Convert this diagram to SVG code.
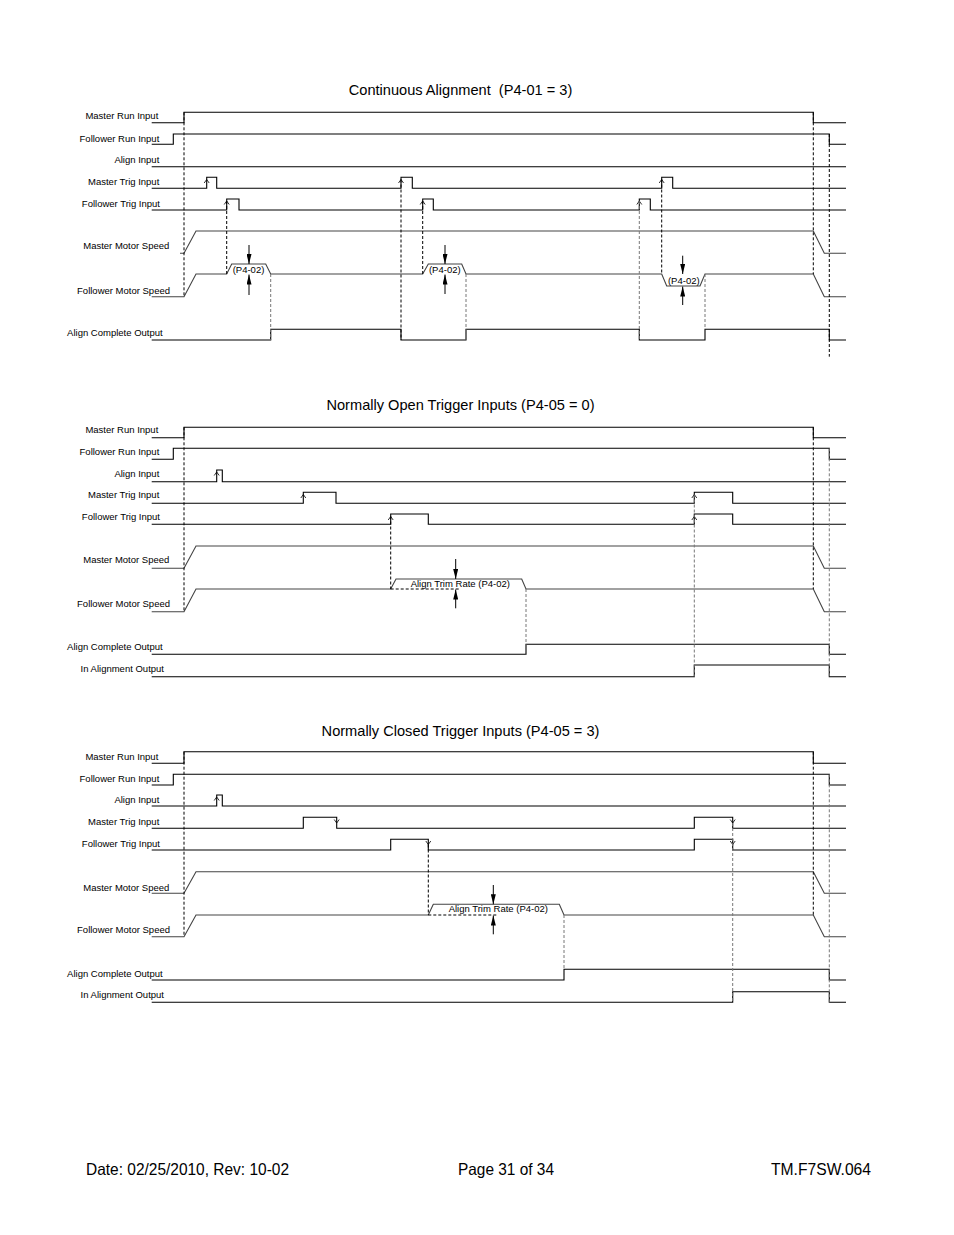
<svg xmlns="http://www.w3.org/2000/svg" xmlns:xlink="http://www.w3.org/1999/xlink" width="954" height="1235" viewBox="0 0 954 1235">
<style>
.sig{fill:none;stroke:#000;stroke-width:1.1}
.spd{stroke:#444}
.dsh{fill:none;stroke:#000;stroke-width:1;stroke-dasharray:3 2}
.dg{stroke:#777}
.car{fill:none;stroke:#000;stroke-width:0.8}
.arr{fill:none;stroke:#000;stroke-width:1;marker-end:url(#fa)}
.lbl{font-family:"Liberation Sans",Arial,sans-serif;font-size:9.5px;fill:#000;text-anchor:end}
.note{font-family:"Liberation Sans",Arial,sans-serif;font-size:9.5px;fill:#000;text-anchor:middle}
.ttl{font-family:"Liberation Sans",Arial,sans-serif;font-size:14.6px;fill:#000;text-anchor:middle;white-space:pre}
.ftr{font-family:"Liberation Sans",Arial,sans-serif;font-size:16.5px;fill:#000}
</style>
<defs>
<marker id="fa" viewBox="0 0 10 5" refX="10" refY="2.5" markerWidth="10" markerHeight="5" markerUnits="userSpaceOnUse" orient="auto">
<path d="M0,0 L10,2.5 L0,5 z" fill="#000"/>
</marker>
<path id="cu" class="car" d="M-2.5,3.5 L0,0 L2.5,3.5"/>
<path id="cd" class="car" d="M-2.5,-3.5 L0,0 L2.5,-3.5"/>
</defs>
<rect width="954" height="1235" fill="#fff"/>

<!-- Diagram 1 -->
<g id="diagram1">
<text class="ttl" x="460.5" y="95">Continuous Alignment  (P4-01 = 3)</text>
<g id="d1-master-run"><text class="lbl" x="158.3" y="119.3">Master Run Input</text><path class="sig" d="M151.7,122.7 H184 V112.3 H813.3 V122.7 H846"/></g>
<g id="d1-follower-run"><text class="lbl" x="159.3" y="141.7">Follower Run Input</text><path class="sig" d="M151.7,144.3 H173.3 V134 H829.3 V144.3 H846"/></g>
<g id="d1-align-input"><text class="lbl" x="159.3" y="163.3">Align Input</text><path class="sig" d="M151.7,166.7 H846"/></g>
<g id="d1-master-trig"><text class="lbl" x="159.3" y="185">Master Trig Input</text><path class="sig" d="M151.7,188.3 H206.7 V177.3 H216.7 V188.3 H401 V177.3 H412.3 V188.3 H661.7 V177.3 H672.7 V188.3 H846"/>
<use xlink:href="#cu" x="206.7" y="179.5"/><use xlink:href="#cu" x="401" y="179.5"/><use xlink:href="#cu" x="661.7" y="179.5"/></g>
<g id="d1-follower-trig"><text class="lbl" x="160" y="206.7">Follower Trig Input</text><path class="sig" d="M151.7,210 H226.7 V199 H239 V210 H422.7 V199 H433.3 V210 H639.3 V199 H650.3 V210 H846"/>
<use xlink:href="#cu" x="226.7" y="201"/><use xlink:href="#cu" x="422.7" y="201"/><use xlink:href="#cu" x="639.3" y="201"/></g>
<g id="d1-master-speed"><text class="lbl" x="169.3" y="249.3">Master Motor Speed</text><path class="sig spd" d="M180,253.3 H184 L196,231 H813.3 L824.3,253.3 H846"/></g>
<g id="d1-follower-speed"><text class="lbl" x="170" y="293.7">Follower Motor Speed</text><path class="sig spd" d="M151.7,296.7 H184 L196,274 H226.7 L231.7,264 H265.7 L270.7,274 H422.7 L428.3,264 H461.7 L466,274 H661.7 L666.7,286 H700 L705,274 H813.3 L824.3,296.7 H846"/>
<text class="note" x="248.5" y="272.5">(P4-02)</text><text class="note" x="444.8" y="272.5">(P4-02)</text><text class="note" x="683.8" y="283.5">(P4-02)</text></g>
<g id="d1-align-complete"><text class="lbl" x="162.7" y="336">Align Complete Output</text><path class="sig" d="M151.7,340 H270.7 V329.3 H401 V340 H466 V329.3 H639.3 V340 H705 V329.3 H829.3 V340 H846"/></g>
<g id="d1-connectors">
<path class="dsh" d="M184,112.3 V296.7"/>
<path class="dsh" d="M226.7,201 V274"/>
<path class="dsh dg" d="M270.7,274 V340"/>
<path class="dsh" d="M401,179.5 V340"/>
<path class="dsh" d="M422.7,201 V274"/>
<path class="dsh dg" d="M466,274 V340"/>
<path class="dsh dg" d="M639.3,201 V340"/>
<path class="dsh" d="M661.7,179.5 V274"/>
<path class="dsh dg" d="M705,274 V329.3"/>
<path class="dsh" d="M813.3,112.3 V274"/>
<path class="dsh" d="M829.3,134 V356.7"/>
<path class="arr" d="M249,245 V264"/><path class="arr" d="M249,295 V274.5"/>
<path class="arr" d="M445,245 V264"/><path class="arr" d="M445,294 V274.5"/>
<path class="arr" d="M682.7,255.7 V274"/><path class="arr" d="M682.7,305 V286.5"/>
</g>
</g>

<!-- Diagram 2 -->
<g id="diagram2">
<text class="ttl" x="460.5" y="409.5">Normally Open Trigger Inputs (P4-05 = 0)</text>
<g id="d2-master-run"><text class="lbl" x="158.3" y="433.3">Master Run Input</text><path class="sig" d="M151.7,437.7 H184 V427.3 H813.3 V437.7 H846"/></g>
<g id="d2-follower-run"><text class="lbl" x="159.3" y="455">Follower Run Input</text><path class="sig" d="M151.7,459.3 H173.3 V448.3 H829.3 V459.3 H846"/></g>
<g id="d2-align-input"><text class="lbl" x="159.3" y="476.7">Align Input</text><path class="sig" d="M151.7,481.7 H216.7 V470 H222.3 V481.7 H846"/><use xlink:href="#cu" x="216.7" y="472"/></g>
<g id="d2-master-trig"><text class="lbl" x="159.3" y="498.3">Master Trig Input</text><path class="sig" d="M151.7,503.3 H303.3 V492.3 H336 V503.3 H694.3 V492.3 H732.7 V503.3 H846"/>
<use xlink:href="#cu" x="303.3" y="494.5"/><use xlink:href="#cu" x="694.3" y="494.5"/></g>
<g id="d2-follower-trig"><text class="lbl" x="160" y="520">Follower Trig Input</text><path class="sig" d="M151.7,524.3 H390.7 V514 H428.3 V524.3 H694.3 V514 H732.7 V524.3 H846"/>
<use xlink:href="#cu" x="390.7" y="516.5"/><use xlink:href="#cu" x="694.3" y="516.5"/></g>
<g id="d2-master-speed"><text class="lbl" x="169.3" y="563.3">Master Motor Speed</text><path class="sig spd" d="M151.7,568.3 H184 L196,546 H813.3 L824.3,568.3 H846"/></g>
<g id="d2-follower-speed"><text class="lbl" x="170" y="606.7">Follower Motor Speed</text><path class="sig spd" d="M151.7,611.7 H184 L196,589 H390.7 L396,579 H521.7 L526,589 H813.3 L824.3,611.7 H846"/>
<path class="dsh" d="M390.7,589 H460"/>
<text class="note" x="460.3" y="587">Align Trim Rate (P4-02)</text></g>
<g id="d2-align-complete"><text class="lbl" x="162.7" y="650">Align Complete Output</text><path class="sig" d="M151.7,654.3 H526 V644.3 H829.3 V654.3 H846"/></g>
<g id="d2-in-alignment"><text class="lbl" x="164" y="672.3">In Alignment Output</text><path class="sig" d="M151.7,676.7 H694.3 V665 H829.3 V676.7 H846"/></g>
<g id="d2-connectors">
<path class="dsh" d="M184,427.3 V611.7"/>
<path class="dsh" d="M390.7,516.5 V589"/>
<path class="dsh dg" d="M526,589 V654.3"/>
<path class="dsh dg" d="M694.3,494.5 V676.7"/>
<path class="dsh" d="M813.3,427.3 V589"/>
<path class="dsh dg" d="M829.3,448.3 V676.7"/>
<path class="arr" d="M455.7,559 V579"/><path class="arr" d="M455.7,608.3 V589.5"/>
</g>
</g>

<!-- Diagram 3 -->
<g id="diagram3">
<text class="ttl" x="460.5" y="735.5">Normally Closed Trigger Inputs (P4-05 = 3)</text>
<g id="d3-master-run"><text class="lbl" x="158.3" y="760">Master Run Input</text><path class="sig" d="M151.7,763.3 H184 V751.7 H813.3 V763.3 H846"/></g>
<g id="d3-follower-run"><text class="lbl" x="159.3" y="781.7">Follower Run Input</text><path class="sig" d="M151.7,785 H173.3 V774.3 H829.3 V785 H846"/></g>
<g id="d3-align-input"><text class="lbl" x="159.3" y="803.3">Align Input</text><path class="sig" d="M151.7,806 H216.7 V795 H222.3 V806 H846"/><use xlink:href="#cu" x="216.7" y="797"/></g>
<g id="d3-master-trig"><text class="lbl" x="159.3" y="825">Master Trig Input</text><path class="sig" d="M151.7,828.3 H303.3 V817.3 H336.7 V828.3 H694.3 V817.3 H732.7 V828.3 H846"/>
<use xlink:href="#cd" x="336.7" y="823"/><use xlink:href="#cd" x="732.7" y="823"/></g>
<g id="d3-follower-trig"><text class="lbl" x="160" y="846.7">Follower Trig Input</text><path class="sig" d="M151.7,850 H390.7 V839.3 H428.3 V850 H694.3 V839.3 H732.7 V850 H846"/>
<use xlink:href="#cd" x="428.3" y="844.5"/><use xlink:href="#cd" x="732.7" y="844.5"/></g>
<g id="d3-master-speed"><text class="lbl" x="169.3" y="891">Master Motor Speed</text><path class="sig spd" d="M151.7,893.3 H184 L196,871.7 H813.3 L824.3,893.3 H846"/></g>
<g id="d3-follower-speed"><text class="lbl" x="170" y="933.3">Follower Motor Speed</text><path class="sig spd" d="M151.7,936.7 H184 L196,915 H428.3 L433.3,904.3 H559.3 L564,915 H813.3 L824.3,936.7 H846"/>
<path class="dsh" d="M428.3,915 H498.3"/>
<text class="note" x="498.3" y="912">Align Trim Rate (P4-02)</text></g>
<g id="d3-align-complete"><text class="lbl" x="162.7" y="976.7">Align Complete Output</text><path class="sig" d="M151.7,980 H564 V969.3 H829.3 V980 H846"/></g>
<g id="d3-in-alignment"><text class="lbl" x="164" y="998.3">In Alignment Output</text><path class="sig" d="M151.7,1002.3 H732.7 V991.7 H829.3 V1002.3 H846"/></g>
<g id="d3-connectors">
<path class="dsh" d="M184,751.7 V936.7"/>
<path class="dsh" d="M428.3,844.5 V915"/>
<path class="dsh dg" d="M564,915 V980"/>
<path class="dsh dg" d="M732.7,823 V1002.3"/>
<path class="dsh" d="M813.3,751.7 V915"/>
<path class="dsh dg" d="M829.3,774.3 V1002.3"/>
<path class="arr" d="M493.3,885 V904.3"/><path class="arr" d="M493.3,934.3 V915.5"/>
</g>
</g>

<g id="footer">
<text class="ftr" x="86" y="1175" textLength="203" lengthAdjust="spacingAndGlyphs">Date: 02/25/2010, Rev: 10-02</text>
<text class="ftr" x="458" y="1175" textLength="96" lengthAdjust="spacingAndGlyphs">Page 31 of 34</text>
<text class="ftr" x="771" y="1175" textLength="100" lengthAdjust="spacingAndGlyphs">TM.F7SW.064</text>
</g>
</svg>
